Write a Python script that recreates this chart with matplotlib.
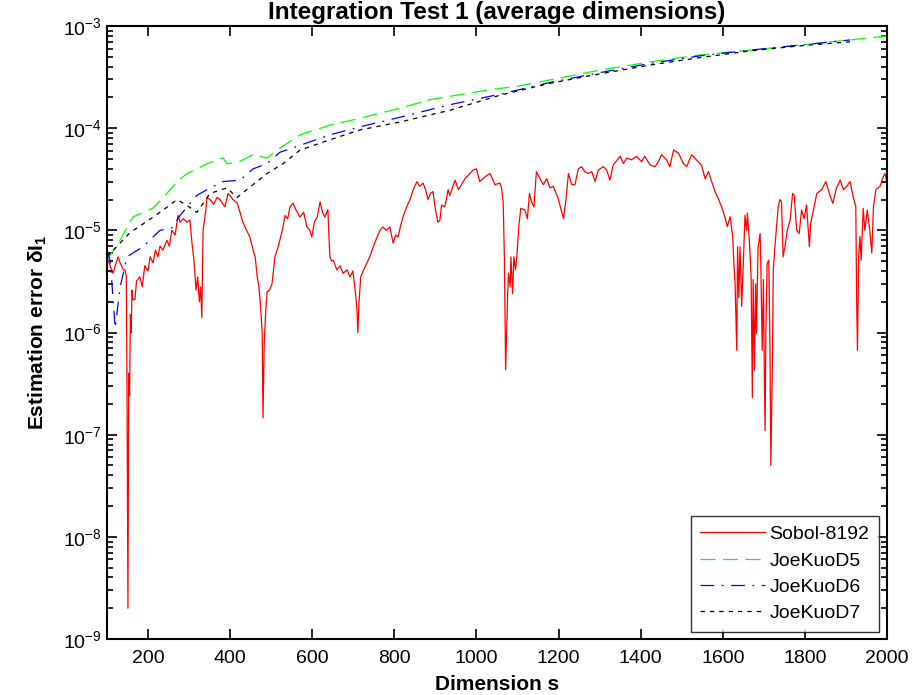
import numpy as np
import matplotlib
matplotlib.use("Agg")
import matplotlib.pyplot as plt

plt.rcParams['font.family'] = ['Liberation Sans', 'DejaVu Sans']
plt.rcParams['mathtext.fontset'] = 'custom'
plt.rcParams['mathtext.rm'] = 'Liberation Sans'
plt.rcParams['mathtext.it'] = 'Liberation Sans:italic'
plt.rcParams['mathtext.bf'] = 'Liberation Sans:bold'

title = "Integration Test 1 (average dimensions)"
xlabel = "Dimension s"
series_names = ["Sobol-8192", "JoeKuoD5", "JoeKuoD6", "JoeKuoD7"]
x_ticks = [200, 400, 600, 800, 1000, 1200, 1400, 1600, 1800, 2000]

sobol_x = [100, 104, 108, 115, 120, 127, 132, 140, 144, 147, 149, 151, 153, 155, 157, 159, 161, 163,
           168, 172, 180, 186, 192, 200, 205, 212, 218, 224, 229, 236, 246, 252, 258, 266, 273, 278,
           286, 295, 302, 307, 312, 317, 321, 325, 328, 331, 334, 340, 344, 351, 360, 368, 375, 387,
           395, 407, 417, 424, 431, 440, 448, 456, 461, 466, 470, 474, 478, 480, 483, 487, 490, 496,
           502, 509, 515, 521, 527, 534, 540, 546, 553, 560, 570, 579, 587, 594, 599, 605, 612, 619,
           625, 631, 638, 641, 643, 647, 651, 660, 668, 675, 685, 692, 699, 705, 709, 711, 714, 718,
           724, 733, 740, 746, 752, 758, 765, 772, 780, 789, 797, 803, 809, 815, 821, 830, 838, 846,
           855, 862, 870, 876, 882, 888, 894, 900, 906,
           911, 915, 923, 931, 935, 948, 956, 972, 992, 1000, 1008, 1021, 1033, 1045, 1057, 1061,
           1065, 1068, 1071, 1073, 1076, 1078, 1082, 1084, 1088, 1091, 1095, 1099, 1103, 1108, 1118,
           1124, 1129, 1134, 1140, 1146, 1155, 1163, 1171, 1179, 1187, 1199, 1212, 1218, 1224, 1232,
           1240, 1248, 1256, 1264, 1272, 1281, 1289, 1297, 1309, 1317, 1325, 1333, 1350, 1358, 1366,
           1378, 1390, 1402, 1410, 1423, 1435, 1443, 1451, 1463, 1471, 1480, 1492, 1504, 1512, 1524,
           1536, 1548, 1557, 1565, 1573, 1581, 1589, 1597, 1605, 1611, 1618, 1624, 1627, 1630, 1634,
           1636, 1639, 1642, 1646, 1650, 1654, 1658, 1660, 1665, 1669, 1672, 1674, 1677, 1680, 1682,
           1686, 1691, 1693, 1696, 1699, 1701, 1703, 1705, 1708, 1712, 1715, 1717, 1721, 1723, 1727,
           1735, 1739, 1743, 1747, 1752, 1757, 1764, 1770, 1774, 1780, 1786, 1792, 1798, 1804, 1811,
           1814, 1821, 1829, 1841, 1851, 1861, 1868, 1877, 1886, 1894, 1902, 1910, 1918, 1924, 1926,
           1928, 1931, 1934, 1937, 1942, 1946, 1952, 1958, 1963, 1967, 1973, 1983, 1991, 1995, 2000]
sobol_err = [4.6e-6, 5.1e-6, 4.4e-6, 3.8e-6, 4.5e-6, 5.5e-6, 4.8e-6, 4.1e-6, 4.1e-6, 3.5e-6, 1.9e-7,
             2.0e-9, 4.0e-7, 2.4e-7, 1.5e-6, 1.0e-6, 2.6e-6, 2.1e-6, 2.1e-6, 3.2e-6, 3.5e-6, 2.8e-6,
             4.5e-6, 4.0e-6, 5.5e-6, 4.8e-6, 6.4e-6, 5.5e-6, 7.0e-6, 6.4e-6, 8.0e-6, 7.0e-6, 1.0e-5,
             9.0e-6, 1.4e-5, 1.2e-5, 1.3e-5, 1.2e-5, 1.26e-5, 7.5e-6, 5.0e-6, 2.6e-6, 3.5e-6, 2.0e-6,
             2.8e-6, 1.4e-6, 1.0e-5, 1.5e-5, 2.1e-5, 2.0e-5, 1.8e-5, 2.1e-5, 2.0e-5, 1.7e-5, 2.3e-5,
             2.0e-5, 1.85e-5, 1.5e-5, 1.2e-5, 1.0e-5, 8.6e-6, 6.4e-6, 5.5e-6, 3.5e-6, 2.8e-6, 1.8e-6,
             1.0e-6, 1.46e-7, 8.0e-7, 1.7e-6, 2.5e-6, 2.6e-6, 3.0e-6, 5.5e-6, 6.5e-6, 8.0e-6, 1.0e-5,
             1.4e-5, 1.3e-5, 1.7e-5, 1.85e-5, 1.6e-5, 1.35e-5, 1.5e-5, 1.08e-5, 1.0e-5, 8.6e-6, 1.2e-5,
             1.35e-5, 1.9e-5, 1.5e-5, 1.35e-5, 1.6e-5, 8.0e-6, 5.5e-6, 5.0e-6, 5.1e-6, 4.1e-6, 4.5e-6,
             3.8e-6, 4.1e-6, 3.5e-6, 4.0e-6, 2.5e-6, 1.66e-6, 1.0e-6, 2.0e-6, 3.5e-6, 4.0e-6, 4.8e-6,
             5.5e-6, 6.4e-6, 7.5e-6, 8.6e-6, 1.0e-5, 1.08e-5, 1.0e-5, 1.08e-5, 7.5e-6, 9.0e-6, 8.6e-6,
             1.1e-5, 1.35e-5, 1.7e-5, 2.0e-5, 2.5e-5, 3.0e-5, 2.7e-5, 2.9e-5, 2.5e-5, 2.0e-5, 2.3e-5,
             2.4e-5, 1.6e-5, 1.2e-5,
             1.26e-5, 1.77e-5, 1.7e-5, 2.5e-5, 2.2e-5, 3.1e-5, 2.5e-5, 3.2e-5, 3.9e-5, 4.0e-5, 3.0e-5,
             3.35e-5, 3.6e-5, 2.8e-5, 2.9e-5, 2.6e-5, 1.9e-5, 5.5e-6, 4.3e-7, 8.5e-7, 2.4e-6, 3.8e-6,
             2.8e-6, 5.5e-6, 2.4e-6, 5.5e-6, 4.1e-6, 6.0e-6, 1.09e-5, 1.64e-5, 1.58e-5, 1.3e-5, 2.3e-5,
             1.9e-5, 1.7e-5, 3.75e-5, 3.2e-5, 2.8e-5, 3.2e-5, 2.6e-5, 2.7e-5, 2.05e-5, 1.3e-5, 2.0e-5,
             3.6e-5, 2.8e-5, 2.8e-5, 4.0e-5, 4.2e-5, 3.75e-5, 3.6e-5, 3.75e-5, 3.0e-5, 3.9e-5, 4.2e-5,
             3.9e-5, 3.1e-5, 4.35e-5, 5.3e-5, 4.5e-5, 5.1e-5, 4.9e-5, 5.3e-5, 4.7e-5, 5.3e-5, 4.35e-5,
             4.2e-5, 4.7e-5, 5.5e-5, 4.9e-5, 4.2e-5, 6.1e-5, 5.7e-5, 4.5e-5, 4.2e-5, 5.5e-5, 4.9e-5,
             4.35e-5, 3.2e-5, 3.75e-5, 3.0e-5, 2.4e-5, 2.05e-5, 1.7e-5, 1.36e-5, 1.09e-5, 1.36e-5,
             8.7e-6, 4.75e-6, 3.0e-6, 6.7e-7, 6.9e-6, 2.2e-6, 6.9e-6, 1.8e-6, 4.75e-6, 1.4e-5, 1.0e-5,
             1.47e-5, 7.5e-6, 3.5e-6, 2.3e-7, 3.3e-6, 4.3e-7, 3.0e-6, 9.8e-7, 6.9e-6, 9.3e-6, 3.8e-6,
             6.7e-7, 3.3e-6, 4.5e-7, 1.1e-7, 1.06e-6, 4.75e-6, 5.1e-6, 6.7e-7, 5.0e-8, 5.6e-7, 4.1e-6,
             6.9e-6, 1.7e-5, 2.0e-5, 1.9e-5, 5.5e-6, 7.2e-6, 1.0e-5, 1.26e-5, 2.3e-5, 2.2e-5, 1.0e-5,
             9.3e-6, 1.58e-5, 1.3e-5, 1.77e-5, 6.9e-6, 1.17e-5, 1.58e-5, 2.3e-5, 2.5e-5, 3.0e-5, 2.2e-5,
             1.84e-5, 2.6e-5, 3.1e-5, 2.5e-5, 2.7e-5, 3.0e-5, 2.1e-5, 1.7e-5, 2.2e-6, 6.7e-7, 5.5e-6,
             8.7e-6, 5.1e-6, 1.64e-5, 1.0e-5, 1.58e-5, 1.0e-5, 6.0e-6, 1.7e-5, 2.5e-5, 2.7e-5, 3.35e-5,
             3.6e-5, 2.9e-5]

d5_x = [100, 132, 149, 163, 188, 212, 246, 271, 295, 314, 344, 383, 392, 417, 456, 490, 514, 570,
        643, 716, 814, 887, 1009, 1106, 1203, 1301, 1423, 1544, 1666, 1788, 1910, 2000]
d5_err = [5.1e-6, 8.0e-6, 1.08e-5, 1.35e-5, 1.5e-5, 1.65e-5, 2.3e-5, 3.0e-5, 3.6e-5, 3.9e-5, 4.5e-5,
          5.1e-5, 4.5e-5, 4.6e-5, 5.5e-5, 5.1e-5, 6.1e-5, 8.6e-5, 1.07e-4, 1.25e-4, 1.57e-4, 1.9e-4,
          2.3e-4, 2.6e-4, 3.1e-4, 3.7e-4, 4.45e-4, 5.2e-4, 5.8e-4, 6.5e-4, 7.3e-4, 8.0e-4]

d6_x = [100, 108, 120, 132, 149, 163, 188, 212, 229, 258, 278, 319, 351, 383, 424, 456, 490, 521,
        643, 716, 814, 936, 1057, 1179, 1301, 1423, 1544, 1666, 1788, 1910]
d6_err = [6.4e-6, 5.0e-6, 1.1e-6, 2.8e-6, 5.5e-6, 6.0e-6, 6.9e-6, 8.6e-6, 1.0e-5, 1.06e-5, 1.4e-5,
          2.2e-5, 2.6e-5, 3.0e-5, 3.1e-5, 4.0e-5, 4.5e-5, 5.8e-5, 8.6e-5, 1.03e-4, 1.28e-4, 1.7e-4,
          2.15e-4, 2.8e-4, 3.5e-4, 4.3e-4, 5.1e-4, 5.8e-4, 6.5e-4, 7.3e-4]

d7_x = [100, 156, 180, 229, 271, 295, 319, 351, 392, 417, 448, 490, 529, 570, 643, 716, 814, 936,
        1057, 1179, 1301, 1423, 1544, 1666, 1788, 1910]
d7_err = [5.5e-6, 9.5e-6, 1.1e-5, 1.5e-5, 2.0e-5, 1.75e-5, 1.5e-5, 2.3e-5, 2.6e-5, 2.1e-5, 2.65e-5,
          3.6e-5, 4.5e-5, 6.1e-5, 7.7e-5, 9.6e-5, 1.15e-4, 1.5e-4, 2.1e-4, 2.75e-4, 3.4e-4, 4.15e-4,
          4.9e-4, 5.7e-4, 6.4e-4, 7.0e-4]

fig = plt.figure(figsize=(9.16, 6.95), dpi=100)
ax = fig.add_axes([107/916, 1 - 639/695, 780/916, 613/695])

ax.plot(sobol_x, sobol_err, color='#ff0000', lw=0.9, ls='-', label=series_names[0])
ax.plot(d5_x, d5_err, color='#00ff00', lw=0.9, ls=(0, (12, 6)), label=series_names[1])
ax.plot(d6_x, d6_err, color='#0000ff', lw=0.9, ls=(0, (11, 6, 1.5, 6)), label=series_names[2])
ax.plot(d7_x, d7_err, color='#000000', lw=0.9, ls=(0, (3.5, 4)), label=series_names[3])

ax.set_yscale('log')
ax.set_xlim(100, 2000)
ax.set_ylim(1e-9, 1e-3)
ax.set_xticks(x_ticks)
ax.set_xticklabels([str(t) for t in x_ticks])

for side in ax.spines.values():
    side.set_linewidth(1.5)
ax.tick_params(which='both', direction='in', top=True, right=True, labelsize=14, width=1.2)
ax.tick_params(which='major', length=7)
ax.tick_params(which='minor', length=4)
ax.tick_params(axis='x', pad=8)

ax.set_title(title, fontsize=17.5, fontweight='bold', pad=5)
ax.set_xlabel(xlabel, fontsize=15, fontweight='bold', labelpad=6)
ax.set_ylabel(r"Estimation error δI$_{\mathbf{1}}$", fontsize=15, fontweight='bold', labelpad=10)

leg = ax.legend(loc='lower right', fontsize=14, frameon=True, fancybox=False, edgecolor='black',
                handlelength=3.3, handletextpad=0.25, labelspacing=0.45, borderpad=0.5,
                borderaxespad=0.0, bbox_to_anchor=(0.9897, 0.0114))
leg.get_frame().set_linewidth(1.0)

fig.savefig("out.png", dpi=100)
